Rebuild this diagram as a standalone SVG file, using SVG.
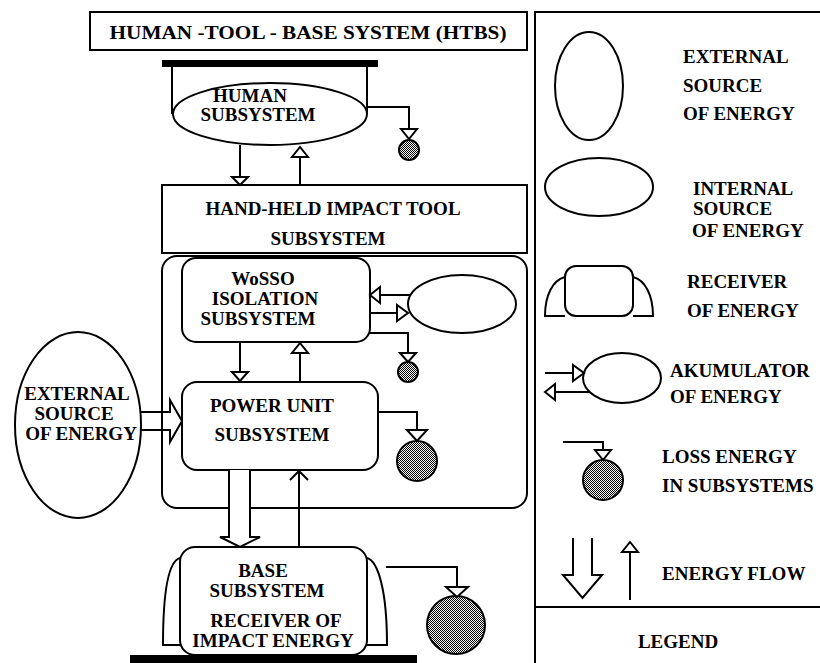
<svg xmlns="http://www.w3.org/2000/svg" width="820" height="663" viewBox="0 0 820 663">
<style>
.s{fill:none;stroke:#000;stroke-width:2;stroke-linejoin:miter}
.w{fill:#fff;stroke:#000;stroke-width:2}
.bar{fill:#000}
.loss{fill:url(#hatch);stroke:#000;stroke-width:2}
text{font-family:"Liberation Serif","Times New Roman",serif;font-weight:bold;font-size:19px;fill:#000}
.m{text-anchor:middle}
</style>
<defs>
<pattern id="hatch" width="2" height="2" patternUnits="userSpaceOnUse">
<rect width="2" height="2" fill="#fff"/>
<rect width="1" height="1" fill="#000"/>
<rect x="1" y="1" width="1" height="1" fill="#000"/>
</pattern>
</defs>
<rect width="820" height="663" fill="#fff"/>

<g id="title">
<rect class="s" x="90" y="12" width="437" height="38"/>
<text class="m" x="308" y="39" font-size="20" textLength="397" lengthAdjust="spacingAndGlyphs">HUMAN -TOOL - BASE SYSTEM (HTBS)</text>
</g>

<g id="human">
<rect class="bar" x="162" y="60" width="216" height="7"/>
<path class="s" d="M172,67 V114 M367,67 V114"/>
<ellipse class="w" cx="270" cy="114" rx="97" ry="31"/>
<text class="m" x="250" y="102">HUMAN</text>
<text class="m" x="258" y="121">SUBSYSTEM</text>
</g>

<g id="human-loss">
<circle class="loss" cx="409" cy="150" r="10"/>
</g>

<g id="handheld">
<rect class="s" x="162" y="185" width="365" height="68"/>
<text class="m" x="333" y="215">HAND-HELD IMPACT TOOL</text>
<text class="m" x="328" y="245">SUBSYSTEM</text>
</g>

<g id="container">
<rect class="s" x="162" y="256" width="365" height="252" rx="15"/>
</g>

<g id="wosso">
<rect class="s" x="182" y="258" width="188" height="84" rx="14"/>
<text class="m" x="263" y="285">WoSSO</text>
<text class="m" x="265" y="305">ISOLATION</text>
<text class="m" x="258" y="325">SUBSYSTEM</text>
</g>

<g id="internal-source">
<ellipse class="s" cx="462" cy="304" rx="54" ry="29"/>
</g>

<g id="wosso-loss">
<circle class="loss" cx="408" cy="372" r="10"/>
</g>

<g id="power">
<rect class="s" x="182" y="382" width="196" height="88" rx="15"/>
<text class="m" x="272" y="412">POWER UNIT</text>
<text class="m" x="272" y="441">SUBSYSTEM</text>
</g>

<g id="power-loss">
<circle class="loss" cx="417" cy="461" r="20"/>
</g>

<g id="external-source">
<ellipse class="s" cx="78" cy="425" rx="63" ry="93"/>
<text class="m" x="77" y="400">EXTERNAL</text>
<text class="m" x="74" y="420">SOURCE</text>
<text class="m" x="81" y="440">OF ENERGY</text>
</g>

<g id="base">
<path class="s" d="M180,558 C169,561 163,590 163,645 H180 M367,558 C378,561 387,590 387,645 H367"/>
<rect class="s" x="180" y="547" width="187" height="108" rx="15"/>
<rect class="bar" x="130" y="655" width="287" height="8"/>
<text class="m" x="263" y="577">BASE</text>
<text class="m" x="267" y="597">SUBSYSTEM</text>
<text class="m" x="276" y="627">RECEIVER OF</text>
<text class="m" x="273" y="647">IMPACT ENERGY</text>
</g>

<g id="base-loss">
<circle class="loss" cx="456" cy="625" r="29"/>
</g>

<g id="connectors">
<path class="s" d="M240,145 V177"/>
<path class="w" d="M232,177 H248 L240,185 Z"/>
<path class="s" d="M300,185 V157"/>
<path class="w" d="M292,157 H308 L300,147 Z"/>
<path class="s" d="M367,107 H409 V129"/>
<path class="w" d="M401,129 H417 L409,139 Z"/>
<path class="s" d="M240,342 V372"/>
<path class="w" d="M232,372 H248 L240,381 Z"/>
<path class="s" d="M300,382 V353"/>
<path class="w" d="M292,353 H308 L300,343 Z"/>
<path class="s" d="M411,295 H380"/>
<path class="w" d="M380,287 V303 L370,295 Z"/>
<path class="s" d="M370,313 H397"/>
<path class="w" d="M397,305 V321 L408,313 Z"/>
<path class="s" d="M370,333 H408 V353"/>
<path class="w" d="M400,353 H416 L408,362 Z"/>
<path class="s" d="M378,412 H417 V430"/>
<path class="w" d="M407,430 H427 L417,441 Z"/>
<path class="s" d="M141,412 H170 V400 L182,421 L170,442 V430 H141"/>
<path class="w" d="M229,470 V537 H220 L240,547 L260,537 H250 V470"/>
<path class="s" d="M299,547 V471 M290,480 L299,471 L308,480"/>
<path class="s" d="M386,567 H457 V587"/>
<path class="w" d="M446,587 H468 L457,597 Z"/>
</g>

<g id="legend">
<path class="s" d="M535,663 V12 H820 M535,607 H820"/>
<ellipse class="s" cx="589" cy="86" rx="34" ry="54"/>
<text x="683" y="63">EXTERNAL</text>
<text x="683" y="92">SOURCE</text>
<text x="683" y="120">OF ENERGY</text>

<ellipse class="s" cx="599" cy="187" rx="54" ry="29"/>
<text x="693" y="195">INTERNAL</text>
<text x="693" y="215">SOURCE</text>
<text x="692" y="237">OF ENERGY</text>

<path class="s" d="M565,277 C553,280 545,295 545,316 H565 M633,277 C645,280 653,295 653,316 H633"/>
<rect class="s" x="565" y="266" width="68" height="50" rx="11"/>
<text x="687" y="288">RECEIVER</text>
<text x="687" y="317">OF ENERGY</text>

<ellipse class="s" cx="622" cy="378" rx="39" ry="25"/>
<path class="s" d="M545,373 H573"/>
<path class="w" d="M573,365 V381 L584,373 Z"/>
<path class="s" d="M590,392 H555"/>
<path class="w" d="M555,384 V400 L545,392 Z"/>
<text x="670" y="377">AKUMULATOR</text>
<text x="670" y="403">OF ENERGY</text>

<path class="s" d="M563,442 H603 V450"/>
<path class="w" d="M595,450 H611 L603,460 Z"/>
<circle class="loss" cx="603" cy="480" r="20"/>
<text x="662" y="463">LOSS ENERGY</text>
<text x="662" y="492">IN SUBSYSTEMS</text>

<path class="w" d="M573,538 V575 H563 L582.5,598 L602,575 H592 V538"/>
<path class="s" d="M630,600 V552"/>
<path class="w" d="M622,552 H638 L630,542 Z"/>
<text x="662" y="580">ENERGY FLOW</text>

<text class="m" x="678" y="648" font-size="22">LEGEND</text>
</g>
</svg>
